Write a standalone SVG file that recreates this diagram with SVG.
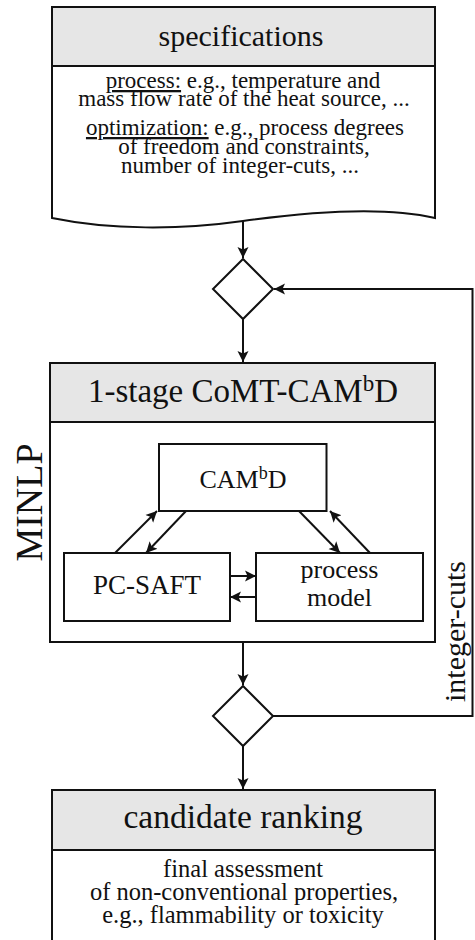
<svg xmlns="http://www.w3.org/2000/svg" width="475" height="940" viewBox="0 0 475 940">
  <style>
    .box { fill: #ffffff; stroke: #111; stroke-width: 2; }
    .head { fill: #e6e6e6; stroke: #111; stroke-width: 2; }
    .edge { fill: none; stroke: #111; stroke-width: 2; }
    .dia { fill: #ffffff; stroke: #111; stroke-width: 2; }
    text { font-family: "Liberation Serif", "Times New Roman", serif; fill: #111; text-anchor: middle; }
    .u { text-decoration: underline; }
  </style>
  <defs>
    <marker id="arrow" markerUnits="userSpaceOnUse" viewBox="0 0 12 12" refX="11" refY="6" markerWidth="12" markerHeight="12" orient="auto">
      <path d="M0,0.5 L11,6 L0,11.5 L2.5,6 Z" fill="#111"/>
    </marker>
  </defs>

  <!-- specifications document -->
  <g id="specifications">
    <path class="box" d="M52,7 H435 V218 C380,205 300,213 243,221 C180,230 110,230 52,218 Z"/>
    <rect class="head" x="52" y="7" width="383" height="59"/>
    <text x="241" y="46" font-size="30">specifications</text>
    <text x="243" y="88" font-size="23"><tspan class="u">process:</tspan> e.g., temperature and</text>
    <text x="244" y="106" font-size="23">mass flow rate of the heat source, ...</text>
    <text x="245" y="135" font-size="23"><tspan class="u">optimization:</tspan> e.g., process degrees</text>
    <text x="244" y="154" font-size="23">of freedom and constraints,</text>
    <text x="240" y="173" font-size="23">number of integer-cuts, ...</text>
  </g>

  <!-- decision points -->
  <g id="decision-top">
    <path class="dia" d="M243,259 L273,289 L243,319 L213,289 Z"/>
  </g>
  <g id="decision-bottom">
    <path class="dia" d="M243,686 L273,716 L243,746 L213,716 Z"/>
  </g>

  <!-- MINLP container -->
  <g id="minlp">
    <rect class="box" x="50" y="363" width="385" height="279"/>
    <rect class="head" x="50" y="363" width="385" height="59"/>
    <text x="243" y="402" font-size="33">1-stage CoMT-CAM<tspan font-size="23" dy="-11">b</tspan><tspan dy="11">D</tspan></text>
    <text transform="translate(41.5,502.5) rotate(-90)" font-size="38">MINLP</text>
  </g>

  <g id="cambd">
    <rect class="box" x="159" y="444" width="167.5" height="67"/>
    <text x="243" y="488" font-size="26">CAM<tspan font-size="18" dy="-9">b</tspan><tspan dy="9">D</tspan></text>
  </g>

  <g id="pc-saft">
    <rect class="box" x="64" y="553" width="166" height="68"/>
    <text x="147" y="594" font-size="27">PC-SAFT</text>
  </g>

  <g id="process-model">
    <rect class="box" x="256" y="553" width="167" height="68"/>
    <text x="339.5" y="578" font-size="26">process</text>
    <text x="339.5" y="606" font-size="26">model</text>
  </g>

  <!-- candidate ranking -->
  <g id="candidate-ranking">
    <path class="edge" d="M52,850 V942 M435,850 V942"/>
    <rect class="head" x="52" y="790" width="383" height="60"/>
    <text x="243" y="828" font-size="33.5">candidate ranking</text>
    <text x="243" y="877" font-size="24.5">final assessment</text>
    <text x="244" y="900" font-size="24.5">of non-conventional properties,</text>
    <text x="243" y="923" font-size="24.5">e.g., flammability or toxicity</text>
  </g>

  <!-- connectors -->
  <g id="connectors">
    <path class="edge" d="M243,221 V258" marker-end="url(#arrow)"/>
    <path class="edge" d="M243,319 V362" marker-end="url(#arrow)"/>
    <path class="edge" d="M243,642 V685" marker-end="url(#arrow)"/>
    <path class="edge" d="M243,746 V789" marker-end="url(#arrow)"/>
    <path class="edge" d="M273,716 H472.5 V289 H274" marker-end="url(#arrow)"/>
    <text transform="translate(465,631.5) rotate(-90)" font-size="30">integer-cuts</text>

    <path class="edge" d="M115,553 L157,511" marker-end="url(#arrow)"/>
    <path class="edge" d="M186,511 L146,553" marker-end="url(#arrow)"/>
    <path class="edge" d="M299,511 L340,553" marker-end="url(#arrow)"/>
    <path class="edge" d="M370,553 L330,511" marker-end="url(#arrow)"/>
    <path class="edge" d="M230,576 H256" marker-end="url(#arrow)"/>
    <path class="edge" d="M256,597 H230" marker-end="url(#arrow)"/>
  </g>
</svg>
